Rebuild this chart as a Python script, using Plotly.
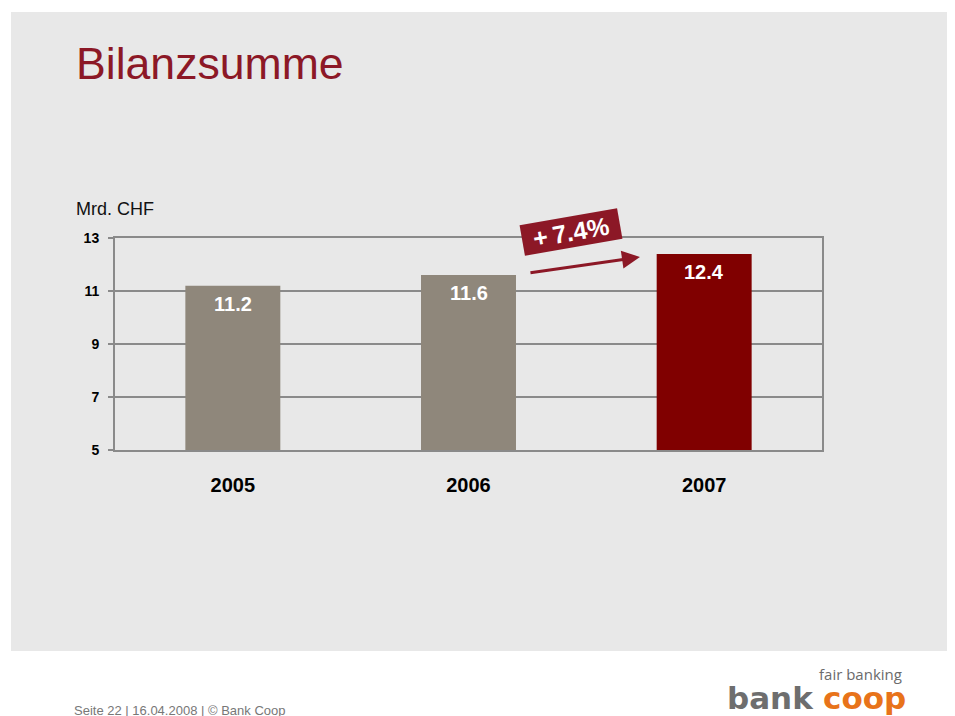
import plotly.graph_objects as go

# ---- data ----
years = ["2005", "2006", "2007"]
values = [11.2, 11.6, 12.4]
value_labels = ["11.2", "11.6", "12.4"]
bar_colors = ["#8F877B", "#8F877B", "#800000"]
y_ticks = [5, 7, 9, 11, 13]
growth_label = "+7.4%"
title_text = "Bilanzsumme"
unit_text = "Mrd. CHF"
footer_text = "Seite 22 | 16.04.2008 | © Bank Coop"

OFF = 8  # page body margin
W, H = 955 - OFF, 716 - OFF
L, R, T, B = 115, 822, 238, 450  # plot area in page pixels


def px(x):
    return (x - L) / (R - L)


def py(y):
    return (B - y) / (B - T)


BG = "#E8E8E8"
RED = "#8C1826"
FONT = "Liberation Sans, Arial, sans-serif"

fig = go.Figure()
fig.add_trace(go.Bar(
    x=years, y=values, marker=dict(color=bar_colors, line=dict(width=0)),
    width=0.403, hoverinfo="skip", showlegend=False,
))

annotations = []
for i, (v, lab) in enumerate(zip(values, value_labels)):
    annotations.append(dict(
        x=i, y=v, xref="x", yref="y", text=f"<b>{lab}</b>", showarrow=False,
        yanchor="middle", yshift=-18,
        font=dict(family=FONT, size=20, color="white"),
    ))

# growth arrow
annotations.append(dict(
    x=1.7275, y=12.283, ax=1.2565, ay=11.68, xref="x", yref="y", axref="x", ayref="y",
    text="", showarrow=True, arrowhead=2, arrowsize=1.2, arrowwidth=3,
    arrowcolor=RED, standoff=0, startstandoff=0,
))
# growth label box
annotations.append(dict(
    x=px(571), y=py(232), xref="paper", yref="paper",
    text="<b>+\u2009" + growth_label[1:] + "</b>",
    showarrow=False, textangle=-10, bgcolor=RED, width=98, height=30,
    borderpad=0, font=dict(family=FONT, size=25, color="white"),
    xanchor="center", yanchor="middle",
))

# title
annotations.append(dict(
    x=px(74), y=py(63), xref="paper", yref="paper", text=title_text,
    showarrow=False, xanchor="left", yanchor="middle",
    font=dict(family=FONT, size=44.6, color=RED),
))
# unit
annotations.append(dict(
    x=px(74), y=py(209), xref="paper", yref="paper", text=unit_text,
    showarrow=False, xanchor="left", yanchor="middle",
    font=dict(family=FONT, size=18, color="#111111"),
))
# footer
annotations.append(dict(
    x=px(72), y=py(710), xref="paper", yref="paper", text=footer_text,
    showarrow=False, xanchor="left", yanchor="middle",
    font=dict(family=FONT, size=13, color="#777777"),
))
# logo
annotations.append(dict(
    x=px(904), y=py(674), xref="paper", yref="paper", text="fair banking",
    showarrow=False, xanchor="right", yanchor="middle",
    font=dict(family="Open Sans, sans-serif", size=15, color="#6B6B6B"),
))
annotations.append(dict(
    x=px(816), y=py(698), xref="paper", yref="paper", text="<b>bank</b>",
    showarrow=False, xanchor="right", yanchor="middle",
    font=dict(family="DejaVu Sans, sans-serif", size=31, color="#6E6E6E"),
))
annotations.append(dict(
    x=px(821), y=py(698), xref="paper", yref="paper", text="<b>coop</b>",
    showarrow=False, xanchor="left", yanchor="middle",
    font=dict(family="DejaVu Sans, sans-serif", size=31, color="#E8731A"),
))

shapes = [dict(
    type="rect", xref="paper", yref="paper", layer="below",
    x0=px(11), x1=px(970), y0=py(651), y1=py(12),
    fillcolor=BG, line=dict(width=0),
)]

fig.update_layout(
    width=W, height=H,
    margin=dict(l=L - OFF, r=W - (R - OFF), t=T - OFF, b=H - (B - OFF), pad=0),
    paper_bgcolor="white", plot_bgcolor=BG,
    font=dict(family=FONT),
    bargap=0.597,
    xaxis=dict(
        type="category", range=[-0.5, 2.5], showgrid=False,
        showline=True, linecolor="#8A8A8A", linewidth=2, mirror=True,
        ticks="", tickfont=dict(family=FONT, size=20, color="black"),
        tickprefix="<b>", ticksuffix="</b>", ticklabelstandoff=16,
        fixedrange=True,
    ),
    yaxis=dict(
        range=[5, 13], tickvals=y_ticks, ticktext=[f"<b>{t}</b>" for t in y_ticks],
        showgrid=True, gridcolor="#8A8A8A", gridwidth=1.5,
        showline=True, linecolor="#8A8A8A", linewidth=2, mirror=True,
        ticks="outside", ticklen=5, tickcolor="#8A8A8A", tickwidth=1.5,
        tickfont=dict(family=FONT, size=14, color="black"),
        ticklabelstandoff=6, zeroline=False, fixedrange=True,
    ),
    annotations=annotations, shapes=shapes,
)

fig.write_html("out.html")
